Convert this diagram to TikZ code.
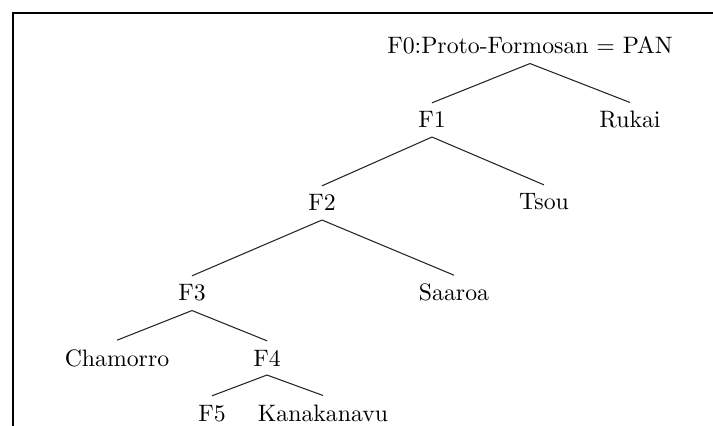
\documentclass[tikz,border=0pt]{standalone}
\begin{document}
\begin{tikzpicture}[x=0.4208pt, y=-0.4208pt,
  lbl/.style={anchor=base, inner sep=3.6pt, font=\fontsize{10pt}{12pt}\selectfont},
  branch/.style={draw=black!85, line width=0.45pt}]
\useasboundingbox (0,0) rectangle (713,426);
% partial frame around the tree
\draw[line width=0.8pt] (13,426) -- (13,13) -- (713,13);

% tree nodes
\node[lbl] (f0) at (530,54) {F0:Proto-Formosan $=$ PAN};
\node[lbl] (f1) at (432,128) {F1};
\node[lbl] (rukai) at (630,128) {Rukai};
\node[lbl] (f2) at (322,211) {F2};
\node[lbl] (tsou) at (544,210) {Tsou};
\node[lbl] (f3) at (192,301) {F3};
\node[lbl] (saaroa) at (454,301) {Saaroa};
\node[lbl] (chamorro) at (117,366) {Chamorro};
\node[lbl] (f4) at (267,366) {F4};
\node[lbl] (f5) at (212,421) {F5};
\node[lbl] (kana) at (323,421) {Kanakanavu};

% branches
\draw[branch] (f0.south) -- (f1.north);
\draw[branch] (f0.south) -- (rukai.north);
\draw[branch] (f1.south) -- (f2.north);
\draw[branch] (f1.south) -- (tsou.north);
\draw[branch] (f2.south) -- (f3.north);
\draw[branch] (f2.south) -- (saaroa.north);
\draw[branch] (f3.south) -- (chamorro.north);
\draw[branch] (f3.south) -- (f4.north);
\draw[branch] (f4.south) -- (f5.north);
\draw[branch] (f4.south) -- (kana.north);
\end{tikzpicture}
\end{document}
